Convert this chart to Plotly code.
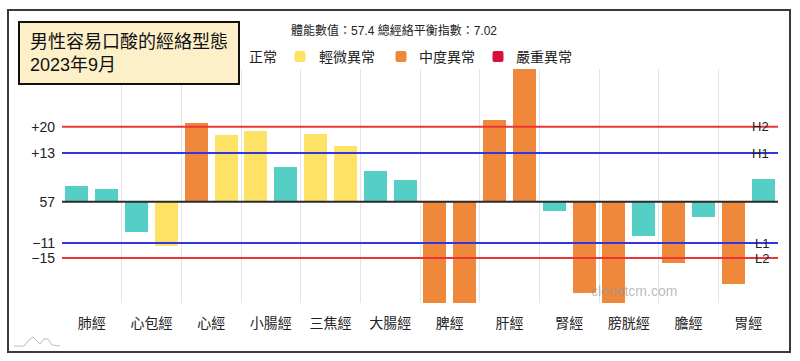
import plotly.graph_objects as go

# ---------------- data ----------------
categories = ["肺經", "心包經", "心經", "小腸經", "三焦經", "大腸經",
              "脾經", "肝經", "腎經", "膀胱經", "膽經", "胃經"]
# two bars per meridian (left / right), deviation from baseline 57
values = [4.3, 3.4, -8.0, -11.7, 21.0, 17.7, 18.8, 9.4, 18.0, 14.8, 8.3, 5.9,
          -30.0, -30.0, 21.7, 38.0, -2.4, -24.4, -30.0, -9.0, -16.4, -4.0, -22.0, 6.1]
status = ["正常", "正常", "正常", "輕微異常", "中度異常", "輕微異常", "輕微異常", "正常",
          "輕微異常", "輕微異常", "正常", "正常", "中度異常", "中度異常", "中度異常", "中度異常",
          "正常", "中度異常", "中度異常", "正常", "中度異常", "正常", "中度異常", "正常"]
status_names = ["正常", "輕微異常", "中度異常", "嚴重異常"]
status_colors = ["#55CFC5", "#FDE266", "#F0883B", "#D6103A"]

ref_values = [20, 13, 0, -11, -15]
ref_ticktext = ["+20", "+13", "57", "−11", "−15"]
ref_labels = ["H2", "H1", None, "L1", "L2"]
ref_colors = ["#EE3535", "#3535E0", "#2a2a2a", "#3535E0", "#EE3535"]

title_text = "男性容易口酸的經絡型態<br>2023年9月"
subtitle_text = "體能數值：57.4 總經絡平衡指數：7.02"
watermark = "cloudtcm.com"

FONT = "Liberation Sans, Noto Sans CJK TC, sans-serif"

# ---------------- layout geometry (pixels) ----------------
W, H = 800, 361
L, R, T, B = 62, 22, 69, 58
PW, PH = W - L - R, H - T - B


def px(x):
    return (x - L) / PW


def py(y):
    return (H - B - y) / PH


def rounded_rect_path(x0, y0, x1, y1, r):
    pts = [
        ("M", (x0 + r, y0)), ("L", (x1 - r, y0)), ("Q", (x1, y0), (x1, y0 + r)),
        ("L", (x1, y1 - r)), ("Q", (x1, y1), (x1 - r, y1)), ("L", (x0 + r, y1)),
        ("Q", (x0, y1), (x0, y1 - r)), ("L", (x0, y0 + r)), ("Q", (x0, y0), (x0 + r, y0)),
    ]
    s = []
    for cmd, *ps in pts:
        s.append(cmd + " " + " ".join(f"{px(a):.5f},{py(b):.5f}" for a, b in ps))
    return " ".join(s) + " Z"


xs = list(range(len(values)))

fig = go.Figure()
for name, col in zip(status_names, status_colors):
    bx = [x for x, s in zip(xs, status) if s == name]
    by = [v for v, s in zip(values, status) if s == name]
    if not bx:
        bx, by = [None], [None]
    fig.add_trace(go.Bar(x=bx, y=by, name=name, width=0.77, showlegend=False,
                         marker=dict(color=col, line=dict(width=0)),
                         hoverinfo="skip"))

shapes = []
for v, c in zip(ref_values, ref_colors):
    shapes.append(dict(type="line", xref="paper", yref="y", x0=0, x1=1, y0=v, y1=v,
                       line=dict(color=c, width=2), layer="above"))

annotations = []

# legend (drawn manually so the swatches sit exactly as in the reference)
legend_swatch_x = [226, 300, 401, 498]
legend_text_x = [247, 317, 417, 514]
legend_y = 57
for name, col, sx, tx in zip(status_names, status_colors, legend_swatch_x, legend_text_x):
    shapes.append(dict(type="path", xref="paper", yref="paper",
                       path=rounded_rect_path(sx - 5.5, legend_y - 6, sx + 5.5, legend_y + 5, 2),
                       fillcolor=col, line=dict(width=0), layer="above"))
    annotations.append(dict(text=name, xref="paper", yref="paper", x=px(tx), y=py(legend_y),
                            xanchor="left", yanchor="middle", showarrow=False,
                            font=dict(size=14, color="#222", family=FONT)))

# outer border
shapes.append(dict(type="rect", xref="paper", yref="paper",
                   x0=px(8), x1=px(790), y0=py(10), y1=py(352),
                   line=dict(color="#3a3a3a", width=2), fillcolor="rgba(0,0,0,0)", layer="above"))
# title box
shapes.append(dict(type="rect", xref="paper", yref="paper",
                   x0=px(19), x1=px(239), y0=py(22), y1=py(84),
                   line=dict(color="#111", width=2), fillcolor="#FDF0C9", layer="above"))
# small logo bottom-left
logo = [(14, 346), (24, 346), (29, 340), (33, 337), (37, 341), (40, 344), (44, 339),
        (48, 339), (52, 345), (60, 346)]
path = "M " + " L ".join(f"{px(a):.4f},{py(b):.4f}" for a, b in logo)
shapes.append(dict(type="path", xref="paper", yref="paper", path=path,
                   line=dict(color="#bdbdbd", width=1), layer="above"))

for v, lab in zip(ref_values, ref_labels):
    if lab:
        annotations.append(dict(text=lab, xref="paper", yref="y", x=px(771), y=v,
                                xanchor="right", yanchor="middle", showarrow=False,
                                font=dict(size=13, color="#222", family=FONT)))
annotations.append(dict(text=title_text, xref="paper", yref="paper", x=px(28), y=py(53),
                        xanchor="left", yanchor="middle", align="left", showarrow=False,
                        font=dict(size=18, color="#111", family=FONT)))
annotations.append(dict(text=subtitle_text, xref="paper", yref="paper", x=px(394), y=py(31),
                        xanchor="center", yanchor="middle", showarrow=False,
                        font=dict(size=12, color="#222", family=FONT)))
annotations.append(dict(text=watermark, xref="paper", yref="paper", x=px(634), y=py(291),
                        xanchor="center", yanchor="middle", showarrow=False,
                        font=dict(size=14, color="rgba(150,150,150,0.65)", family=FONT)))

fig.update_layout(
    width=W, height=H, margin=dict(l=L, r=R, t=T, b=B, autoexpand=False),
    paper_bgcolor="white", plot_bgcolor="white",
    barmode="overlay", bargap=0,
    font=dict(family=FONT, size=14, color="#222"),
    showlegend=False,
    shapes=shapes, annotations=annotations,
    xaxis=dict(range=[-0.5, len(values) - 0.5], tickmode="array",
               tickvals=[2 * i + 0.5 for i in range(len(categories))], ticktext=categories,
               showgrid=False, zeroline=False, showline=False, ticks="",
               ticklabelstandoff=10, tickfont=dict(size=14, color="#222"),
               minor=dict(tickmode="array", tickvals=[2 * i - 0.5 for i in range(len(categories) + 1)],
                          showgrid=True, gridcolor="#e4e4e4", gridwidth=1, ticks="")),
    yaxis=dict(range=[-27, 35.4], tickmode="array", tickvals=ref_values, ticktext=ref_ticktext,
               showgrid=False, zeroline=False, showline=False, ticks="",
               ticklabelstandoff=6, tickfont=dict(size=14, color="#222")),
)

fig.write_html("out.html", config={"displayModeBar": False},
               post_script="document.body.style.margin='0';document.body.style.overflow='hidden';")
